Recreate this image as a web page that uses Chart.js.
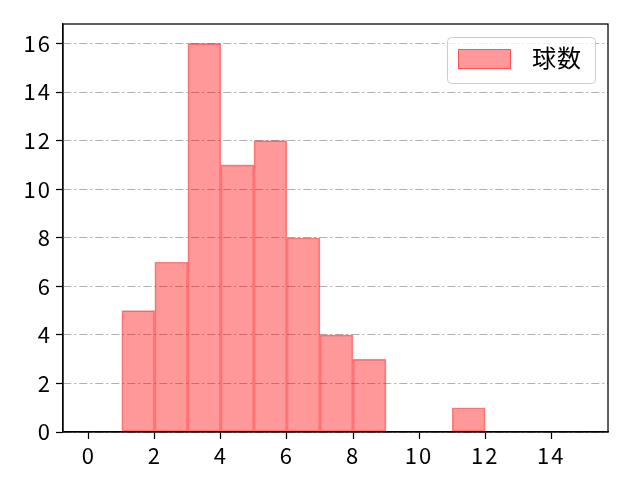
<!DOCTYPE html>
<html>
<head>
<meta charset="utf-8">
<script src="https://cdn.jsdelivr.net/npm/chart.js@4"></script>
<style>
  html, body { margin: 0; padding: 0; background: #fff; }
  #wrap { width: 640px; height: 480px; }
</style>
</head>
<body>
<div id="wrap"><canvas id="c" width="640" height="480"></canvas></div>
<script>
// Histogram bins (left edges, width 1) and counts
const binStarts = [0, 1, 2, 3, 4, 5, 6, 7, 8, 9, 10, 11, 12, 13, 14];
const counts    = [0, 5, 7, 16, 11, 12, 8, 4, 3, 0, 0, 1, 0, 0, 0];
const seriesLabel = '球数';
const xTickValues = [0, 2, 4, 6, 8, 10, 12, 14];
const yTickValues = [0, 2, 4, 6, 8, 10, 12, 14, 16];

const FONT = '"Noto Sans CJK JP", "Noto Sans", sans-serif';
const FILL = 'rgba(255,0,0,0.4)';
const EDGE = 'rgba(255,0,0,0.45)';

const spacing = {
  id: 'spacing',
  beforeDraw(chart) { chart.ctx.letterSpacing = '2px'; },
  beforeLayout(chart) { chart.ctx.letterSpacing = '2px'; }
};

const frame = {
  id: 'frame',
  afterDraw(chart) {
    const { ctx, chartArea: a } = chart;
    ctx.save();
    ctx.letterSpacing = '0px';
    ctx.strokeStyle = '#000';
    ctx.lineWidth = 1.25;
    ctx.strokeRect(a.left, a.top, a.right - a.left, a.bottom - a.top);
    // legend
    const bx = 447.5, by = 37.5, bw = 148, bh = 46, r = 4;
    ctx.beginPath();
    ctx.moveTo(bx + r, by);
    ctx.lineTo(bx + bw - r, by);
    ctx.quadraticCurveTo(bx + bw, by, bx + bw, by + r);
    ctx.lineTo(bx + bw, by + bh - r);
    ctx.quadraticCurveTo(bx + bw, by + bh, bx + bw - r, by + bh);
    ctx.lineTo(bx + r, by + bh);
    ctx.quadraticCurveTo(bx, by + bh, bx, by + bh - r);
    ctx.lineTo(bx, by + r);
    ctx.quadraticCurveTo(bx, by, bx + r, by);
    ctx.closePath();
    ctx.fillStyle = 'rgba(255,255,255,0.8)';
    ctx.fill();
    ctx.strokeStyle = '#cccccc';
    ctx.lineWidth = 1;
    ctx.stroke();
    ctx.fillStyle = FILL;
    ctx.fillRect(458, 49, 53, 20);
    ctx.strokeStyle = EDGE;
    ctx.strokeRect(458.5, 49.5, 52, 19);
    ctx.fillStyle = '#000';
    ctx.font = '24px ' + FONT;
    ctx.letterSpacing = '1px';
    ctx.textBaseline = 'middle';
    ctx.textAlign = 'left';
    ctx.fillText(chart.data.datasets[0].label, 532, 58);
    ctx.restore();
  }
};

new Chart(document.getElementById('c'), {
  type: 'bar',
  data: {
    datasets: [{
      label: seriesLabel,
      data: binStarts.map((s, i) => ({ x: s + 0.5, y: counts[i] })),
      backgroundColor: FILL,
      borderColor: EDGE,
      borderWidth: (ctx) => (ctx.raw && ctx.raw.y > 0 ? 1 : 0),
      borderSkipped: false,
      barPercentage: 1,
      categoryPercentage: 1
    }]
  },
  options: {
    responsive: false,
    animation: false,
    layout: { padding: { top: 24, right: 32, left: 0, bottom: 0 } },
    plugins: { legend: { display: false }, tooltip: { enabled: false } },
    scales: {
      x: {
        type: 'linear',
        min: -0.78,
        max: 15.72,
        offset: false,
        afterBuildTicks: (s) => { s.ticks = xTickValues.map(v => ({ value: v })); },
        afterFit: (s) => { s.height = 48; },
        grid: { offset: false, drawOnChartArea: false, drawTicks: true, tickLength: 7, tickColor: '#000', tickWidth: 1.25 },
        border: { display: true, color: '#000', width: 1.25 },
        ticks: { color: '#000', font: { family: FONT, size: 22 }, padding: 3, maxRotation: 0, autoSkip: false }
      },
      y: {
        min: 0,
        max: 16.8,
        afterBuildTicks: (s) => { s.ticks = yTickValues.map(v => ({ value: v })); },
        afterFit: (s) => { s.width = 63; },
        grid: { color: '#b0b0b0', lineWidth: 1, drawTicks: true, tickLength: 7, tickColor: '#000', tickWidth: 1.25 },
        border: { display: true, color: '#000', width: 1.25, dash: [8, 3, 2, 3] },
        ticks: { color: '#000', font: { family: FONT, size: 22 }, padding: 4, autoSkip: false }
      }
    }
  },
  plugins: [spacing, frame]
});
</script>
</body>
</html>
